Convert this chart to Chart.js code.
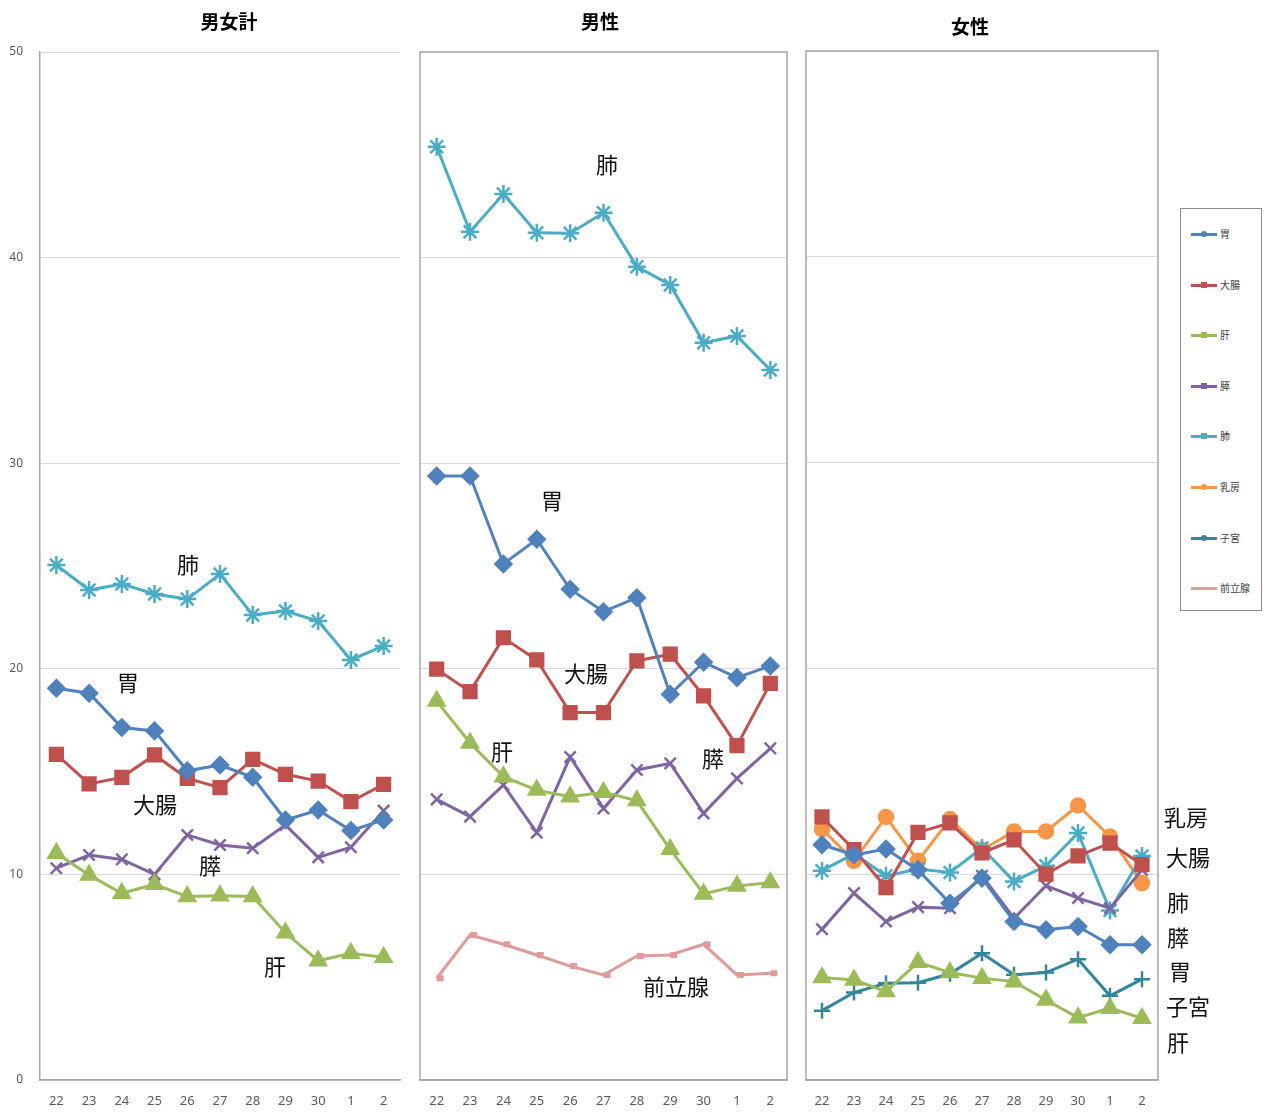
<!DOCTYPE html>
<html>
<head>
<meta charset="utf-8">
<script src="https://cdn.jsdelivr.net/npm/chart.js@4/dist/chart.umd.min.js"></script>
<style>
    body { margin: 0; background: #fff; width: 1266px; height: 1113px; position: relative; overflow: hidden;
           font-family: "Noto Sans CJK JP", sans-serif; }
    canvas { position: absolute; top: 0; }
    .title { position: absolute; font-weight: bold; font-size: 19px; color: #000; transform: translateX(-50%); }
    .lbl { position: absolute; font-size: 22px; color: #111; white-space: nowrap; transform: translate(-50%, -50%); }
    #legend { position: absolute; left: 1180px; top: 208px; width: 82px; height: 403px; border: 1px solid #8c8c8c; box-sizing: border-box; }
    .item { position: absolute; left: 10px; font-size: 10px; color: #404040; height: 12px; line-height: 12px; }
    .item .ln { position: absolute; left: 0; top: 5px; width: 26px; height: 3px; }
    .item .mk { position: absolute; left: 10px; top: 3px; width: 6px; height: 6px; }
    .item span.tx { position: absolute; left: 29px; top: 0; white-space: nowrap; }
</style>
</head>
<body>
<canvas id="c1" width="410" height="1113" style="left:0px"></canvas>
<canvas id="c2" width="390" height="1113" style="left:410px"></canvas>
<canvas id="c3" width="370" height="1113" style="left:800px"></canvas>

<div class="title" style="left:229px;top:7px">男女計</div>
<div class="title" style="left:600px;top:7px">男性</div>
<div class="title" style="left:970px;top:12px">女性</div>

<div id="legend"></div>

<script>
// 年度（平成22〜令和2）
const years = ['22', '23', '24', '25', '26', '27', '28', '29', '30', '1', '2'];
const yTicks = [0, 10, 20, 30, 40, 50];

// 男女計
const allStomach = [19.05, 18.81, 17.14, 16.98, 15.04, 15.32, 14.72, 12.65, 13.13, 12.13, 12.65];
const allColon = [15.84, 14.40, 14.72, 15.81, 14.67, 14.22, 15.60, 14.87, 14.54, 13.54, 14.38];
const allLiver = [11.03, 9.97, 9.08, 9.52, 8.92, 8.96, 8.92, 7.16, 5.80, 6.16, 5.97];
const allPancreas = [10.30, 10.94, 10.73, 10.00, 11.92, 11.43, 11.27, 12.40, 10.83, 11.32, 13.10];
const allLung = [25.05, 23.83, 24.12, 23.64, 23.39, 24.61, 22.62, 22.81, 22.32, 20.43, 21.11];

// 男性
const maleStomach = [29.38, 29.38, 25.10, 26.30, 23.87, 22.78, 23.46, 18.76, 20.32, 19.57, 20.14];
const maleColon = [19.98, 18.89, 21.51, 20.43, 17.87, 17.87, 20.39, 20.71, 18.68, 16.26, 19.29];
const maleLiver = [18.43, 16.39, 14.75, 14.10, 13.78, 13.99, 13.59, 11.22, 9.05, 9.44, 9.60];
const malePancreas = [13.65, 12.81, 14.35, 12.03, 15.71, 13.21, 15.08, 15.40, 12.97, 14.67, 16.13];
const maleLung = [45.39, 41.26, 43.09, 41.21, 41.18, 42.18, 39.56, 38.67, 35.86, 36.19, 34.53];
const maleProstate = [4.95, 7.05, 6.60, 6.08, 5.54, 5.11, 6.03, 6.08, 6.60, 5.11, 5.19];

// 女性
const femStomach = [11.43, 10.94, 11.22, 10.21, 8.59, 9.81, 7.70, 7.30, 7.46, 6.57, 6.57];
const femColon = [12.78, 11.19, 9.35, 12.03, 12.49, 11.03, 11.67, 10.00, 10.89, 11.51, 10.46];
const femLiver = [4.98, 4.86, 4.30, 5.72, 5.22, 4.95, 4.78, 3.89, 3.03, 3.49, 3.00];
const femPancreas = [7.33, 9.08, 7.70, 8.40, 8.35, 9.92, 7.86, 9.44, 8.84, 8.35, 10.21];
const femLung = [10.17, 10.99, 9.92, 10.25, 10.08, 11.27, 9.65, 10.41, 12.00, 8.24, 10.89];
const femBreast = [12.19, 10.65, 12.78, 10.65, 12.68, 11.19, 12.08, 12.08, 13.34, 11.83, 9.57];
const femUterus = [3.37, 4.25, 4.70, 4.73, 5.16, 6.16, 5.11, 5.22, 5.87, 4.09, 4.90];

const sites = {
    stomach:  { name: '胃',   color: '#4f81bd', point: 'rectRot',  r: 8 },
    colon:    { name: '大腸', color: '#c0504d', point: 'rect',     r: 9 },
    liver:    { name: '肝',   color: '#9bbb59', point: 'triangle', r: 9 },
    pancreas: { name: '膵',   color: '#8064a2', point: 'crossRot', r: 8 },
    lung:     { name: '肺',   color: '#4bacc6', point: 'star',     r: 9 },
    breast:   { name: '乳房', color: '#f79646', point: 'circle',   r: 7 },
    uterus:   { name: '子宮', color: '#31859c', point: 'cross',    r: 8 },
    prostate: { name: '前立腺', color: '#e09a9a', point: 'dash',   r: 7 }
};

function ds(key, data) {
    const s = sites[key];
    return {
        label: s.name,
        data: data,
        borderColor: s.color,
        backgroundColor: s.color,
        pointBackgroundColor: s.color,
        pointBorderColor: s.color,
        pointStyle: s.point,
        pointRadius: s.r,
        pointBorderWidth: key === 'prostate' ? 6 : 2.5,
        borderWidth: 3,
        tension: 0
    };
}

// panel frame
const framePlugin = {
    id: 'frame',
    afterDraw(chart, args, opts) {
        if (!opts.show) return;
        const a = chart.chartArea;
        const ctx = chart.ctx;
        ctx.save();
        ctx.strokeStyle = '#a6a6a6';
        ctx.lineWidth = 1.5;
        ctx.strokeRect(a.left, a.top, a.right - a.left, a.bottom - a.top);
        ctx.restore();
    }
};

function makeChart(id, datasets, pad, showY, frame) {
    return new Chart(document.getElementById(id), {
        type: 'line',
        data: { labels: years, datasets: datasets },
        plugins: [framePlugin],
        options: {
            responsive: false,
            animation: false,
            layout: { padding: pad, autoPadding: false },
            plugins: {
                legend: { display: false },
                tooltip: { enabled: false },
                frame: { show: frame }
            },
            scales: {
                x: {
                    offset: true,
                    grid: { display: true, color: 'rgba(0,0,0,0)', drawTicks: true, tickLength: 13 },
                    border: { display: true, color: '#a6a6a6', width: 1.5 },
                    ticks: { color: '#595959', font: { family: 'Noto Sans', size: 13 }, padding: 0, maxRotation: 0, autoSkip: false },
                    afterFit(s) {
                        s.height = 1113 - 1080 - pad.bottom;
                        s.paddingLeft = 0;
                        s.paddingRight = 0;
                    }
                },
                y: {
                    display: true,
                    min: 0,
                    max: 50,
                    afterBuildTicks(s) { s.ticks = yTicks.map(v => ({ value: v })); },
                    grid: { color: '#d9d9d9', lineWidth: 1, drawTicks: false },
                    border: { display: showY, color: '#a6a6a6', width: 1.5 },
                    ticks: { display: showY, color: '#595959', font: { family: 'Noto Sans', size: 12 }, padding: 17 },
                    afterFit(s) { s.width = showY ? 40 : 0; }
                }
            }
        }
    });
}

makeChart('c1', [
    ds('stomach', allStomach), ds('colon', allColon), ds('liver', allLiver),
    ds('pancreas', allPancreas), ds('lung', allLung)
], { top: 52, bottom: 0, left: 0, right: 10 }, true, false);

makeChart('c2', [
    ds('stomach', maleStomach), ds('colon', maleColon), ds('liver', maleLiver),
    ds('pancreas', malePancreas), ds('lung', maleLung), ds('prostate', maleProstate)
], { top: 52, bottom: 0, left: 10, right: 13 }, false, true);

makeChart('c3', [
    ds('stomach', femStomach), ds('colon', femColon), ds('liver', femLiver),
    ds('pancreas', femPancreas), ds('lung', femLung), ds('breast', femBreast), ds('uterus', femUterus)
], { top: 51, bottom: 0, left: 6, right: 12 }, false, true);

// series labels placed next to the lines
const labelSpots = [
    ['肺', 188, 563], ['胃', 128, 681], ['大腸', 155, 803], ['膵', 210, 864], ['肝', 275, 965],
    ['肺', 607, 163], ['胃', 552, 499], ['大腸', 586, 672], ['肝', 502, 750], ['膵', 713, 757], ['前立腺', 676, 985],
    ['乳房', 1186, 816], ['大腸', 1188, 856], ['肺', 1178, 901], ['膵', 1178, 936], ['胃', 1180, 970], ['子宮', 1188, 1005], ['肝', 1178, 1041]
];
labelSpots.forEach(([t, x, y]) => {
    const d = document.createElement('div');
    d.className = 'lbl';
    d.textContent = t;
    d.style.left = x + 'px';
    d.style.top = y + 'px';
    document.body.appendChild(d);
});

// legend
const legend = document.getElementById('legend');
['stomach', 'colon', 'liver', 'pancreas', 'lung', 'breast', 'uterus', 'prostate'].forEach((k, i) => {
    const s = sites[k];
    const it = document.createElement('div');
    it.className = 'item';
    it.style.top = (19 + i * 50.6) + 'px';
    let mk = '';
    if (k !== 'prostate') {
        const round = (k === 'breast' || k === 'stomach' || k === 'uterus') ? 'border-radius:50%;' : '';
        mk = `<div class="mk" style="background:${s.color};${round}"></div>`;
    }
    it.innerHTML = `<div class="ln" style="background:${s.color}"></div>${mk}<span class="tx">${s.name}</span>`;
    legend.appendChild(it);
});
</script>
</body>
</html>
